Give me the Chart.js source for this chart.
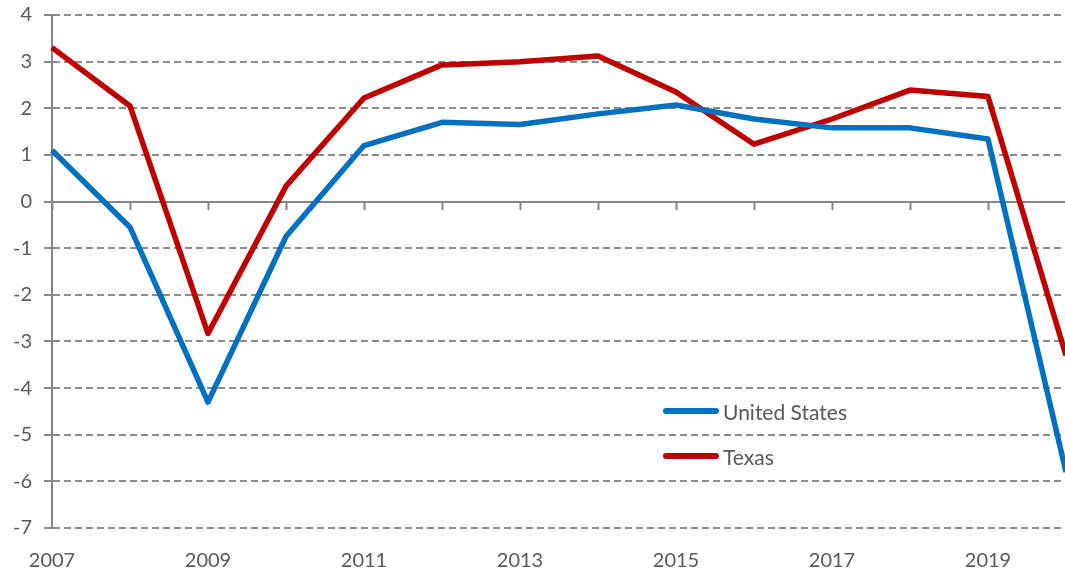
<!DOCTYPE html>
<html>
<head>
<meta charset="utf-8">
<script src="https://cdn.jsdelivr.net/npm/chart.js@4.4.1/dist/chart.umd.min.js"></script>
<style>
    html, body { margin: 0; padding: 0; background: #fff; overflow: hidden; }
    #wrap { position: relative; width: 1065px; height: 576px; overflow: hidden; }
    #box { position: absolute; left: 0; top: 0; width: 1068px; height: 576px; }
    .legend { position: absolute; left: 663px; height: 24px; display: flex; align-items: center;
        font: 21px Lato, "Open Sans", sans-serif; color: #595959; white-space: nowrap; }
    .legend i { display: inline-block; width: 56px; height: 6px; border-radius: 3px; margin-right: 4px; }
</style>
</head>
<body>
<div id="wrap">
    <div id="box"><canvas id="chart"></canvas></div>
    <div class="legend" style="top:399px"><i style="background:#0070C0"></i>United States</div>
    <div class="legend" style="top:444px"><i style="background:#C00000"></i>Texas</div>
</div>
<script>
const years = ['2007', '2008', '2009', '2010', '2011', '2012', '2013', '2014', '2015', '2016', '2017', '2018', '2019', '2020'];
const unitedStates = [1.1, -0.55, -4.3, -0.75, 1.2, 1.7, 1.65, 1.88, 2.07, 1.77, 1.58, 1.58, 1.34, -5.8];
const texas = [3.3, 2.05, -2.83, 0.33, 2.22, 2.93, 3.0, 3.12, 2.35, 1.23, 1.77, 2.39, 2.25, -3.3];
const yMin = -7;
const yMax = 4;

const blue = '#0070C0';
const red = '#C00000';
const axisGray = '#868686';
const textGray = '#595959';
const font = { family: 'Lato, "Open Sans", sans-serif', size: 20 };

new Chart(document.getElementById('chart'), {
    type: 'line',
    data: {
        labels: years,
        datasets: [
            {
                label: 'United States',
                data: unitedStates,
                borderColor: blue,
                backgroundColor: blue,
                borderWidth: 5.5,
                pointRadius: 0,
                tension: 0,
                borderJoinStyle: 'round',
            },
            {
                label: 'Texas',
                data: texas,
                borderColor: red,
                backgroundColor: red,
                borderWidth: 5.5,
                pointRadius: 0,
                tension: 0,
                borderJoinStyle: 'round',
            },
        ],
    },
    options: {
        responsive: true,
        maintainAspectRatio: false,
        animation: false,
        events: [],
        layout: { padding: { top: 15, right: 2, left: 0, bottom: 0 } },
        plugins: {
            legend: { display: false },
            tooltip: { enabled: false },
        },
        scales: {
            x: {
                type: 'category',
                offset: false,
                grid: { display: false, drawTicks: false },
                border: { display: false },
                ticks: {
                    color: textGray,
                    font,
                    padding: 21,
                    autoSkip: false,
                    maxRotation: 0,
                    callback: (v, i) => (i % 2 === 0 ? years[i] : null),
                },
                afterFit: (scale) => { scale.height = 48; },
            },
            zero: {
                type: 'category',
                axis: 'x',
                position: { y: 0 },
                offset: false,
                grid: {
                    drawOnChartArea: false,
                    drawTicks: true,
                    tickLength: 7,
                    tickColor: axisGray,
                    tickWidth: 2,
                },
                border: { display: true, color: axisGray, width: 2 },
                ticks: { display: false },
            },
            y: {
                min: yMin,
                max: yMax,
                ticks: { stepSize: 1, color: textGray, font, padding: 12 },
                grid: {
                    color: (c) => (c.tick && c.tick.value === 0 ? 'rgba(0,0,0,0)' : '#8c8c8c'),
                    lineWidth: 2,
                    tickLength: 8,
                    tickColor: axisGray,
                    tickWidth: 2,
                    tickBorderDash: [],
                },
                border: { display: true, color: axisGray, width: 2, dash: [7, 4] },
                afterFit: (scale) => {
                    scale.width = 52;
                    scale.paddingTop = 0;
                    scale.paddingBottom = 0;
                },
            },
        },
    },
});
</script>
</body>
</html>
